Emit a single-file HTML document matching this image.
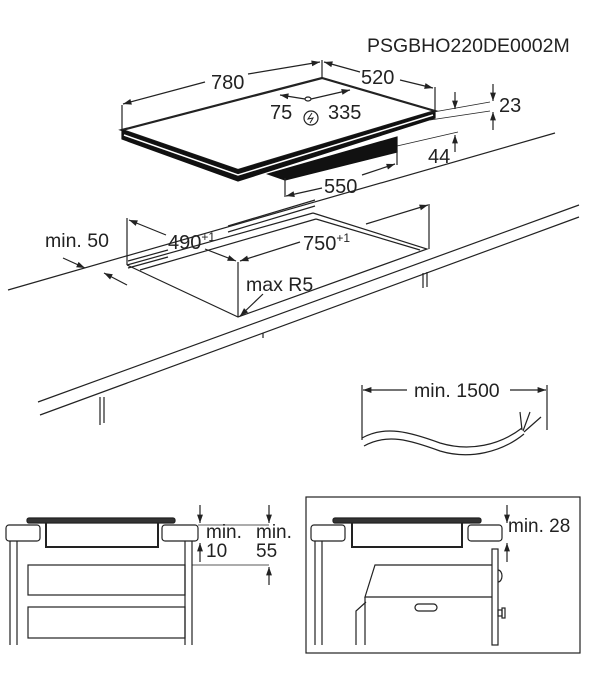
<!DOCTYPE html>
<html><head><meta charset="utf-8"><style>
html,body{margin:0;padding:0;background:#fff}
svg{display:block}
text{font-family:"Liberation Sans",sans-serif;fill:#222}
</style></head><body>
<svg width="600" height="676" viewBox="0 0 600 676" xmlns="http://www.w3.org/2000/svg">
<defs>
<marker id="a" viewBox="0 0 10 10" refX="10" refY="5" markerWidth="9" markerHeight="7" orient="auto-start-reverse"><path d="M0,1.5 L10,5 L0,8.5 z" fill="#222"/></marker>
</defs>
<g stroke="#222" fill="none" stroke-width="1.2">
<text x="367" y="52" font-size="19.5" stroke="none">PSGBHO220DE0002M</text>

<!-- hob -->
<polygon points="122,130 322,78 435,111 238,170" fill="#fff" stroke-width="2.2"/>
<polygon points="122,130 238,170 435,111 435,118 238,181 122,139" fill="#111" stroke="#111"/>
<polyline points="124,135 238,175 433,115" stroke="#fff" stroke-width="1.5"/>
<polygon points="268,174 397,137 397,152 285,180" fill="#111" stroke="#111"/>
<!-- 780 -->
<line x1="122" y1="105" x2="122" y2="130"/><line x1="322" y1="60" x2="322" y2="78"/>
<line x1="123" y1="104" x2="205" y2="82" marker-start="url(#a)"/>
<line x1="248" y1="74" x2="320" y2="62" marker-end="url(#a)"/>
<text x="211" y="89" font-size="20" stroke="none">780</text>
<!-- 520 -->
<line x1="435" y1="87" x2="435" y2="110"/>
<line x1="324" y1="62" x2="360" y2="72" marker-start="url(#a)"/>
<line x1="400" y1="80" x2="433" y2="88" marker-end="url(#a)"/>
<text x="361" y="84" font-size="20" stroke="none">520</text>
<!-- 75 335 -->
<line x1="280" y1="95" x2="305" y2="99" marker-start="url(#a)"/>
<ellipse cx="308" cy="99" rx="3" ry="2"/>
<line x1="311" y1="99" x2="350" y2="90" marker-end="url(#a)"/>
<text x="270" y="119" font-size="20" stroke="none">75</text>
<text x="328" y="119" font-size="20" stroke="none">335</text>
<circle cx="311" cy="118" r="7"/>
<path d="M312,113 L308,119 L313,118 L310,123" stroke-width="1"/>
<!-- 23 -->
<line x1="428" y1="113" x2="490" y2="102" stroke-width="0.8"/>
<line x1="430" y1="120" x2="490" y2="111" stroke-width="0.8"/>
<line x1="455" y1="92" x2="455" y2="109" marker-end="url(#a)"/>
<line x1="493" y1="84" x2="493" y2="101" marker-end="url(#a)"/>
<line x1="493" y1="130" x2="493" y2="112" marker-end="url(#a)"/>
<text x="499" y="112" font-size="20" stroke="none">23</text>
<!-- 44 -->
<line x1="397" y1="146" x2="458" y2="132" stroke-width="0.8"/>
<line x1="455" y1="152" x2="455" y2="135" marker-end="url(#a)"/>
<text x="428" y="163" font-size="20" stroke="none">44</text>
<!-- 550 -->
<line x1="285" y1="178" x2="285" y2="197"/><line x1="397" y1="150" x2="397" y2="165"/>
<line x1="286" y1="196" x2="322" y2="188" marker-start="url(#a)"/>
<line x1="362" y1="175" x2="395" y2="164" marker-end="url(#a)"/>
<text x="324" y="193" font-size="20" stroke="none">550</text>

<!-- counter -->
<line x1="8" y1="290" x2="555" y2="133"/>
<line x1="38" y1="402" x2="579" y2="205"/>
<line x1="40" y1="415" x2="579" y2="217"/>
<line x1="100" y1="397" x2="100" y2="425"/><line x1="104" y1="397" x2="104" y2="423"/>
<line x1="423" y1="273" x2="423" y2="288"/><line x1="427" y1="272" x2="427" y2="287"/>
<line x1="263" y1="333" x2="263" y2="338"/>
<!-- cutout -->
<polyline points="127,265 238,317 427,249 313,213"/>
<line x1="313" y1="213" x2="127" y2="265"/>
<line x1="140" y1="270" x2="316" y2="219"/>
<line x1="316" y1="219" x2="420" y2="250"/>
<line x1="128" y1="261" x2="168" y2="250"/>
<line x1="128" y1="268" x2="168" y2="257"/>
<line x1="228" y1="226" x2="315" y2="200"/>
<line x1="228" y1="232" x2="315" y2="206"/>
<!-- 490 -->
<line x1="127" y1="218" x2="127" y2="265"/>
<line x1="129" y1="220" x2="166" y2="235" marker-start="url(#a)"/>
<line x1="205" y1="249" x2="236" y2="261" marker-end="url(#a)"/>
<text x="168" y="249" font-size="20" stroke="none">490<tspan font-size="12" dy="-8">+1</tspan></text>
<!-- 750 -->
<line x1="238" y1="262" x2="238" y2="317"/>
<line x1="429" y1="204" x2="429" y2="249"/>
<line x1="240" y1="261" x2="300" y2="242" marker-start="url(#a)"/>
<line x1="366" y1="224" x2="428" y2="205" marker-end="url(#a)"/>
<text x="303" y="250" font-size="20" stroke="none">750<tspan font-size="12" dy="-8">+1</tspan></text>
<!-- min 50 -->
<text x="45" y="247" font-size="19.5" stroke="none">min. 50</text>
<line x1="63" y1="258" x2="85" y2="268" marker-end="url(#a)"/>
<line x1="127" y1="285" x2="104" y2="273" marker-end="url(#a)"/>
<!-- max R5 -->
<text x="246" y="291" font-size="19.5" stroke="none">max R5</text>
<line x1="263" y1="294" x2="240" y2="316" marker-end="url(#a)"/>

<!-- cable -->
<line x1="362" y1="385" x2="362" y2="440"/><line x1="547" y1="385" x2="547" y2="430"/>
<line x1="363" y1="390" x2="407" y2="390" marker-start="url(#a)"/>
<line x1="510" y1="390" x2="546" y2="390" marker-end="url(#a)"/>
<text x="414" y="397" font-size="19.5" stroke="none">min. 1500</text>
<path d="M362,438 C385,425 410,432 440,443 C470,452 500,445 522,428"/>
<path d="M364,446 C387,433 410,440 440,451 C470,460 502,452 524,434"/>
<path d="M522,430 L520,412 M523,431 L530,412 M524,432 L541,417"/>

<!-- bottom left -->
<rect x="6" y="525" width="34" height="16" rx="3"/>
<rect x="162" y="525" width="36" height="16" rx="3"/>
<rect x="27" y="518" width="148" height="5" rx="2" fill="#333"/>
<path d="M46,523 V547 H158 V523" stroke-width="2"/>
<line x1="10" y1="541" x2="10" y2="645"/><line x1="17" y1="541" x2="17" y2="645"/>
<line x1="185" y1="541" x2="185" y2="645"/><line x1="192" y1="541" x2="192" y2="645"/>
<rect x="28" y="565" width="157" height="30"/>
<rect x="28" y="607" width="157" height="31"/>
<line x1="198" y1="525" x2="269" y2="525" stroke-width="0.8"/>
<line x1="192" y1="565" x2="269" y2="565" stroke-width="0.8"/>
<line x1="200" y1="505" x2="200" y2="523" marker-end="url(#a)"/>
<line x1="200" y1="562" x2="200" y2="543" marker-end="url(#a)"/>
<line x1="269" y1="505" x2="269" y2="523" marker-end="url(#a)"/>
<line x1="269" y1="585" x2="269" y2="567" marker-end="url(#a)"/>
<text x="206" y="538" font-size="19" stroke="none">min.</text>
<text x="206" y="557" font-size="19" stroke="none">10</text>
<text x="256" y="538" font-size="19" stroke="none">min.</text>
<text x="256" y="557" font-size="19" stroke="none">55</text>

<!-- bottom right -->
<rect x="306" y="497" width="274" height="156"/>
<rect x="311" y="525" width="34" height="16" rx="3"/>
<rect x="468" y="525" width="34" height="16" rx="3"/>
<rect x="333" y="518" width="148" height="5" rx="2" fill="#333"/>
<path d="M352,523 V547 H462 V523" stroke-width="2"/>
<line x1="315" y1="541" x2="315" y2="645"/><line x1="322" y1="541" x2="322" y2="645"/>
<path d="M492,565 H375 L365,597 H492"/>
<path d="M365,597 V645"/>
<path d="M366,602 L356,611 V645"/>
<rect x="415" y="604" width="22" height="7" rx="3.5"/>
<rect x="492" y="549" width="6" height="96"/>
<path d="M498,570 A4,6 0 0 1 498,582"/>
<rect x="498" y="610" width="4" height="6"/><rect x="502" y="608" width="3" height="10"/>
<line x1="507" y1="505" x2="507" y2="523" marker-end="url(#a)"/>
<line x1="507" y1="562" x2="507" y2="543" marker-end="url(#a)"/>
<text x="508" y="532" font-size="19" stroke="none">min. 28</text>
</g>
</svg>
</body></html>
